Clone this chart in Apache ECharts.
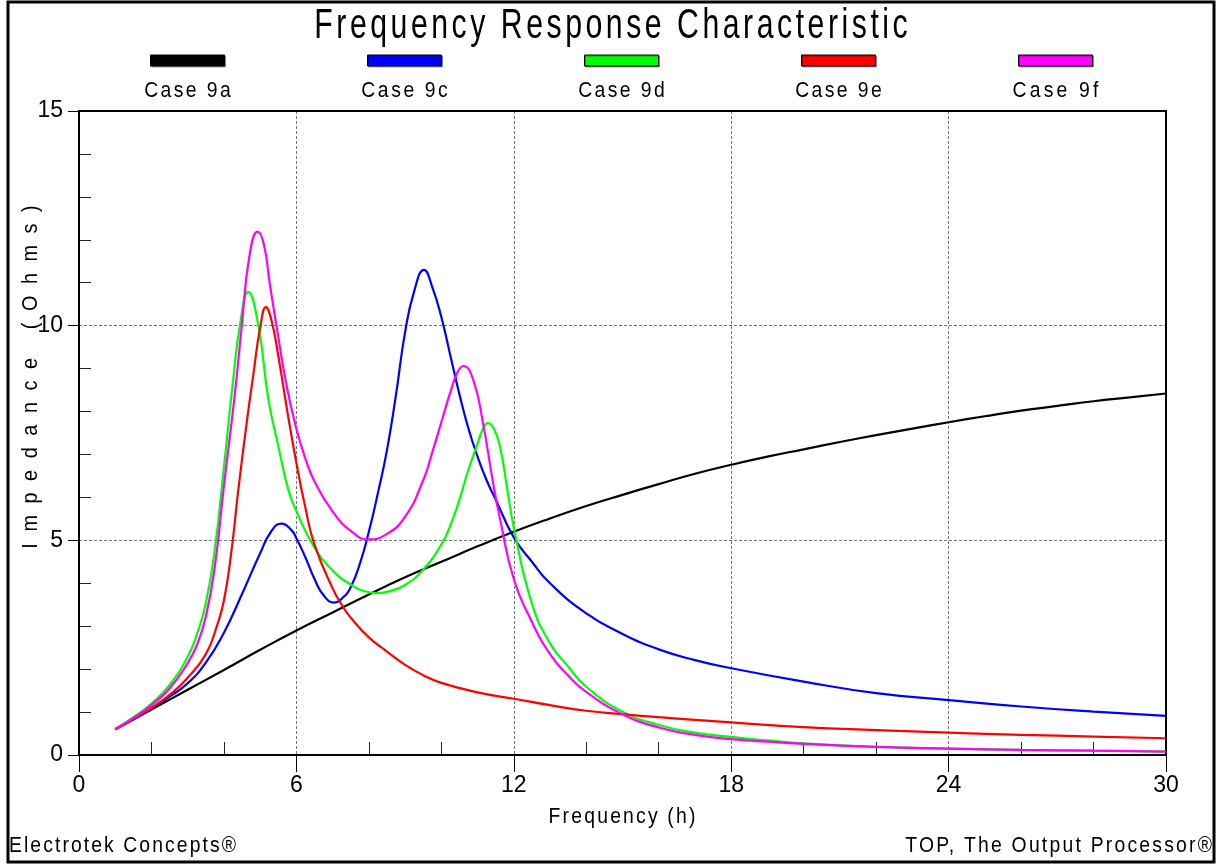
<!DOCTYPE html>
<html><head><meta charset="utf-8">
<script src="https://cdn.jsdelivr.net/npm/echarts@6/dist/echarts.min.js"></script>
<style>html,body{margin:0;padding:0;background:#fff}#c{width:1217px;height:866px}</style>
</head><body><div id="c"></div><script>
// ---------------- data ----------------
const seriesNames = ['Case 9a', 'Case 9c', 'Case 9d', 'Case 9e', 'Case 9f'];
const seriesColors = ['#000000', '#0000ff', '#00ff00', '#ff0000', '#ff00ff'];

const case9a = [[1,0.6],[2,1.06],[3,1.52],[4,1.98],[5,2.45],[6,2.9],[7,3.32],[8,3.74],[9,4.14],[10,4.5],[11,4.86],[12,5.2],[13,5.51],[14,5.8],[15,6.06],[16,6.31],[17,6.55],[18,6.76],[19,6.95],[20,7.12],[21,7.29],[22,7.45],[23,7.6],[24,7.75],[25,7.89],[26,8.02],[27,8.13],[28,8.24],[29,8.33],[30,8.42]];

const case9c = [[1,0.6],[1.5,0.83],[2,1.08],[2.5,1.36],[3,1.67],[3.5,2.15],[4,2.85],[4.5,3.75],[5,4.7],[5.3,5.2],[5.59,5.39],[5.85,5.25],[6,5.05],[6.25,4.6],[6.5,4.1],[6.75,3.72],[7.04,3.55],[7.3,3.68],[7.5,3.91],[7.75,4.45],[8,5.2],[8.25,6.1],[8.5,7.1],[8.75,8.4],[9,9.85],[9.25,10.8],[9.52,11.3],[9.75,10.9],[10,10.2],[10.25,9.3],[10.5,8.4],[10.75,7.6],[11,6.95],[11.25,6.4],[11.5,5.95],[12,5.07],[12.5,4.5],[13,4.0],[14,3.3],[15,2.82],[16,2.46],[17,2.21],[18,2.02],[20,1.71],[22,1.44],[24,1.28],[26,1.13],[28,1.01],[30,0.91]];

const case9d = [[1,0.6],[1.5,0.88],[2,1.2],[2.5,1.63],[3,2.29],[3.25,2.8],[3.5,3.53],[3.75,4.8],[4,6.7],[4.25,8.7],[4.44,10.0],[4.67,10.79],[4.95,10.0],[5.23,8.27],[5.5,7.2],[5.78,6.17],[6,5.68],[6.5,4.83],[7,4.3],[7.5,3.97],[8,3.79],[8.22,3.77],[8.5,3.8],[9,3.96],[9.5,4.32],[10,4.9],[10.25,5.35],[10.5,5.95],[10.75,6.65],[11,7.25],[11.15,7.6],[11.28,7.73],[11.45,7.6],[11.62,7.18],[11.8,6.3],[12,5.3],[12.5,3.53],[13,2.6],[13.5,2.06],[14,1.59],[15,1.01],[16,0.7],[17,0.52],[18,0.42],[19,0.34],[20,0.27],[22,0.19],[24,0.15],[26,0.12],[28,0.1],[30,0.08]];

const case9e = [[1,0.6],[1.5,0.84],[2,1.1],[2.5,1.4],[3,1.8],[3.5,2.35],[3.8,2.99],[4,3.6],[4.2,4.7],[4.4,6.2],[4.63,7.75],[4.81,8.85],[5,9.95],[5.16,10.43],[5.31,10.13],[5.5,9.3],[5.75,8.0],[6,6.8],[6.25,5.75],[6.5,4.9],[7,3.88],[7.25,3.5],[7.5,3.2],[8,2.74],[8.5,2.41],[9,2.1],[9.5,1.86],[10,1.68],[11,1.46],[12,1.31],[13,1.16],[14,1.03],[15,0.95],[16,0.88],[17,0.82],[18,0.76],[20,0.65],[22,0.58],[24,0.52],[26,0.47],[28,0.43],[30,0.39]];

const case9f = [[1,0.6],[1.5,0.86],[2,1.16],[2.5,1.55],[3,2.14],[3.25,2.55],[3.5,3.22],[3.75,4.4],[4,6.27],[4.3,8.4],[4.5,10.06],[4.7,11.6],[4.93,12.19],[5.1,11.9],[5.27,10.95],[5.46,9.95],[5.73,8.6],[6,7.6],[6.25,6.9],[6.5,6.37],[7,5.67],[7.5,5.22],[8,5.02],[8.5,5.15],[9,5.55],[9.5,6.4],[9.75,7.05],[10,7.75],[10.25,8.45],[10.45,8.92],[10.61,9.06],[10.88,8.74],[11.15,7.73],[11.43,6.33],[11.62,5.5],[12,4.1],[12.5,3.1],[13,2.35],[13.5,1.85],[14,1.47],[15,0.95],[16,0.64],[17,0.47],[18,0.37],[19,0.31],[20,0.26],[22,0.19],[24,0.15],[26,0.12],[28,0.1],[30,0.08]];

const seriesData = [case9a, case9c, case9d, case9e, case9f];

const xMinorTicks = [2,4,8,10,14,16,20,22,26,28];
const yMinorTicks = [1,2,3,4,6,7,8,9,11,12,13,14];

const titleText = 'Frequency Response Characteristic';
const xAxisName = 'Frequency (h)';
const yAxisName = 'Impedance (Ohms)';
const footerLeft = 'Electrotek Concepts®';
const footerRight = 'TOP, The Output Processor®';

// ---------------- text helpers (letter spacing like the original) ----------------
const FONT = '"Liberation Sans", Arial, Helvetica, sans-serif';
const mctx = document.createElement('canvas').getContext('2d');
const hasLS = 'letterSpacing' in mctx;
const spacingMap = {};
const origFillText = CanvasRenderingContext2D.prototype.fillText;
CanvasRenderingContext2D.prototype.fillText = function (t, x, y, mw) {
  const ls = spacingMap[t];
  if (hasLS) {
    this.letterSpacing = (ls ? ls : 0) + 'px';
  }
  let dx = 0;
  if (ls && hasLS) {
    if (this.textAlign === 'center') dx = ls / 2;
    else if (this.textAlign === 'right' || this.textAlign === 'end') dx = ls;
  }
  const r = mw === undefined ? origFillText.call(this, t, x + dx, y) : origFillText.call(this, t, x + dx, y, mw);
  if (hasLS) this.letterSpacing = '0px';
  return r;
};
function textW(t, size) { mctx.font = size + 'px ' + FONT; return mctx.measureText(t).width; }
function fitText(t, size, x, y, width, align, k, extra) {
  const w0 = textW(t, size);
  const n = Array.from(t).length;
  let scale = k;
  let ls = (width / k - w0) / n;
  if (!hasLS || ls < 0) { scale = width / w0; ls = 0; }
  if (ls > 0) spacingMap[t] = Math.round(ls * 100) / 100;
  return Object.assign({
    type: 'text', x: x, y: y, scaleX: scale, silent: true,
    style: { text: t, fontSize: size, fontFamily: FONT, fill: '#000', align: align || 'center', verticalAlign: 'middle' }
  }, extra || {});
}

const graphics = [];
graphics.push({ type: 'rect', shape: { x: 8, y: 2, width: 1206, height: 860 }, style: { fill: 'none', stroke: '#000', lineWidth: 3 }, silent: true });
graphics.push(fitText(titleText, 42, 611, 26, 597, 'center', 0.72));
seriesNames.forEach((n, i) => {
  const cx = 187.5 + 217 * i;
  graphics.push({ type: 'rect', shape: { x: cx - 37, y: 55, width: 74, height: 11 }, style: { fill: seriesColors[i], stroke: '#000', lineWidth: 1, shadowColor: 'rgba(0,0,0,0.35)', shadowOffsetX: 1, shadowOffsetY: 1 }, silent: true });
  graphics.push(fitText(n, 22, cx, 91, 89, 'center', 0.88));
});
graphics.push(fitText(yAxisName, 22, 31, 377, 355, 'center', 0.9, { rotation: Math.PI / 2 }));
graphics.push(fitText(xAxisName, 22, 622, 817, 149, 'center', 0.88));
graphics.push(fitText(footerLeft, 22, 9, 846, 229, 'left', 0.88));
graphics.push(fitText(footerRight, 22, 1212, 846, 309, 'right', 0.88));

const gridLine = { show: true, showMinLine: false, showMaxLine: false, lineStyle: { color: '#777', width: 1, type: [3, 2] } };

const option = {
  animation: false,
  backgroundColor: '#fff',
  textStyle: { fontFamily: FONT },
  grid: { left: 79, right: 51, top: 111, bottom: 111, show: true, borderColor: '#000', borderWidth: 2, backgroundColor: 'transparent', z: 5 },
  xAxis: [
    {
      type: 'value', min: 0, max: 30, interval: 6, position: 'bottom',
      axisLine: { show: true, onZero: false, lineStyle: { color: '#000', width: 2 } },
      axisTick: { show: true, inside: false, length: 17, lineStyle: { color: '#000', width: 1 } },
      axisLabel: { fontSize: 23, color: '#000', margin: 19, fontFamily: FONT },
      splitLine: gridLine
    },
    {
      type: 'value', min: 0, max: 30, position: 'bottom',
      axisLine: { show: false },
      axisTick: { show: true, inside: true, length: 13, customValues: xMinorTicks, lineStyle: { color: '#222', width: 1 } },
      axisLabel: { show: false },
      splitLine: { show: false }
    }
  ],
  yAxis: [
    {
      type: 'value', min: 0, max: 15, interval: 5, position: 'left',
      axisLine: { show: true, onZero: false, lineStyle: { color: '#000', width: 2 } },
      axisTick: { show: true, inside: false, length: 11, lineStyle: { color: '#000', width: 1 } },
      axisLabel: { fontSize: 23, color: '#000', margin: 16, fontFamily: FONT },
      splitLine: gridLine
    },
    {
      type: 'value', min: 0, max: 15, position: 'left',
      axisLine: { show: false },
      axisTick: { show: true, inside: true, length: 12, customValues: yMinorTicks, lineStyle: { color: '#222', width: 1 } },
      axisLabel: { show: false },
      splitLine: { show: false }
    }
  ],
  series: seriesNames.map((n, i) => ({
    name: n, type: 'line', data: seriesData[i],
    xAxisIndex: 0, yAxisIndex: 0,
    showSymbol: false, symbol: 'none',
    smooth: 0.5,
    lineStyle: { color: seriesColors[i], width: 2.2 },
    itemStyle: { color: seriesColors[i] },
    z: 2 + i
  })),
  graphic: graphics
};

const chart = echarts.init(document.getElementById('c'), null, { renderer: 'canvas' });
chart.setOption(option);
</script></body></html>
